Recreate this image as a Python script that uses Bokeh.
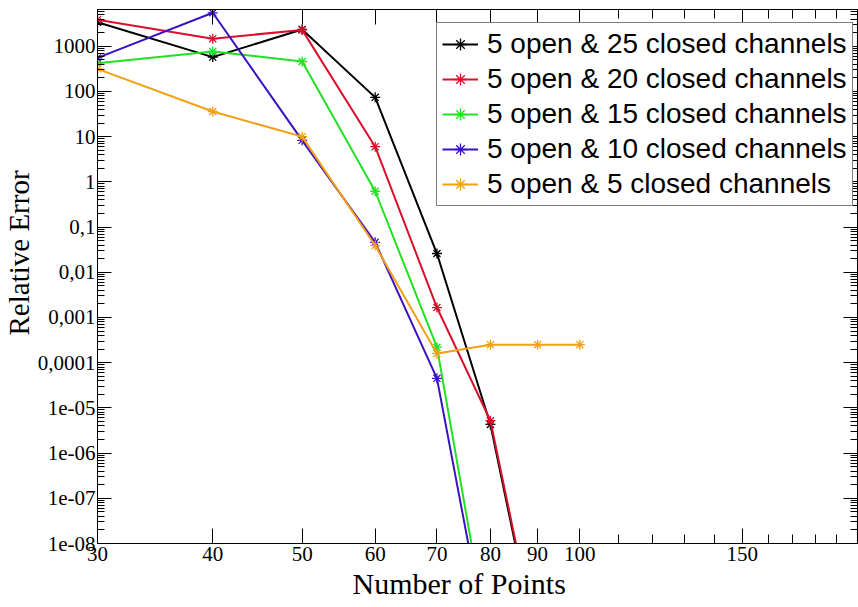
from bokeh.plotting import figure
from bokeh.models import (Range1d, FixedTicker, LogAxis, CustomJSTickFormatter,
                          Legend, LegendItem, Title)
from bokeh.embed import file_html
from bokeh.resources import INLINE

# ---- data ----
labels = ["5 open & 25 closed channels", "5 open & 20 closed channels",
          "5 open & 15 closed channels", "5 open & 10 closed channels",
          "5 open & 5 closed channels"]
colors = ["#000000", "#d8102c", "#22e022", "#3a12c0", "#f2a014"]

n_points_25 = [30, 40, 50, 60, 70, 80, 90]
err_25 = [3400, 575, 2350, 74, 0.026, 4.3e-6, 4e-11]
n_points_20 = [30, 40, 50, 60, 70, 80, 90]
err_20 = [3870, 1470, 2300, 6.0, 0.00166, 5.2e-6, 5e-11]
n_points_15 = [30, 40, 50, 60, 70, 80]
err_15 = [420, 765, 460, 0.62, 2.2e-4, 4e-11]
n_points_10 = [30, 40, 50, 60, 70, 80]
err_10 = [555, 5500, 8.3, 0.046, 4.5e-5, 2.6e-11]
n_points_5 = [30, 40, 50, 60, 70, 80, 90, 100]
err_5 = [316, 36, 10, 0.039, 1.6e-4, 2.5e-4, 2.5e-4, 2.5e-4]

x_major_ticks = [30, 40, 50, 60, 70, 80, 90, 100, 150]
x_minor_ticks = [110, 120, 130, 140, 160, 170, 180, 190]
y_tick_values = [1e-8, 1e-7, 1e-6, 1e-5, 1e-4, 1e-3, 1e-2, 1e-1, 1, 10, 100, 1000]
y_tick_labels = ["1e-08", "1e-07", "1e-06", "1e-05", "0,0001", "0,001", "0,01",
                 "0,1", "1", "10", "100", "1000"]
y_minor_ticks = [m * 10.0 ** e for e in range(-8, 4) for m in range(2, 10)]

x_title = "Number of Points"
y_title = "Relative Error"

series = [(n_points_25, err_25), (n_points_20, err_20), (n_points_15, err_15),
          (n_points_10, err_10), (n_points_5, err_5)]

p = figure(width=858, height=607, x_axis_type="log", y_axis_type="log",
           x_range=Range1d(30, 200), y_range=Range1d(1e-8, 6500),
           output_backend="svg", toolbar_location=None,
           min_border_left=97, min_border_right=1, min_border_top=9,
           min_border_bottom=64)
p.grid.visible = False
p.outline_line_color = "black"
p.outline_line_width = 1
p.background_fill_color = "white"
p.border_fill_color = "white"

x_fmt = CustomJSTickFormatter(code="return String(Math.round(tick));")
y_fmt = CustomJSTickFormatter(args=dict(vals=y_tick_values, labs=y_tick_labels), code="""
let best = 0, bd = Infinity;
for (let i = 0; i < vals.length; i++) {
  const d = Math.abs(Math.log10(vals[i]) - Math.log10(tick));
  if (d < bd) { bd = d; best = i; }
}
return bd < 0.01 ? labs[best] : "";
""")
blank = CustomJSTickFormatter(code="return '';")

def style(ax, major_in, minor_in):
    ax.major_tick_in = major_in
    ax.major_tick_out = 0
    ax.minor_tick_in = minor_in
    ax.minor_tick_out = 0
    ax.axis_line_color = "black"
    ax.major_tick_line_color = "black"
    ax.minor_tick_line_color = "black"

xb = p.xaxis[0]
xb.ticker = FixedTicker(ticks=x_major_ticks, minor_ticks=x_minor_ticks)
xb.formatter = x_fmt
style(xb, 15, 9)
xb.major_label_text_font = "Liberation Serif"
xb.major_label_text_font_size = "21px"
xb.major_label_text_color = "black"
xb.major_label_standoff = 3

yl = p.yaxis[0]
yl.ticker = FixedTicker(ticks=y_tick_values, minor_ticks=y_minor_ticks)
yl.formatter = y_fmt
style(yl, 14, 7)
yl.major_label_text_font = "Liberation Serif"
yl.major_label_text_font_size = "21px"
yl.major_label_text_color = "black"
yl.major_label_standoff = 2

top = LogAxis(ticker=FixedTicker(ticks=x_major_ticks, minor_ticks=x_minor_ticks),
              formatter=blank, major_label_text_font_size="0px", major_label_standoff=0)
style(top, 15, 9)
p.add_layout(top, "above")
right = LogAxis(ticker=FixedTicker(ticks=y_tick_values, minor_ticks=y_minor_ticks),
                formatter=blank, major_label_text_font_size="0px", major_label_standoff=0)
style(right, 14, 7)
p.add_layout(right, "right")

# axis titles, placed off-centre as in the reference
p.add_layout(Title(text=x_title, align="left", offset=255, standoff=2,
                   text_font="Liberation Serif", text_font_size="30px",
                   text_font_style="normal", text_color="black"), "below")
p.add_layout(Title(text=y_title, align="left", offset=208, standoff=0,
                   text_font="Liberation Serif", text_font_size="29px",
                   text_font_style="normal", text_color="black"), "left")

items = []
for (xs, ys), c, lab in zip(series, colors, labels):
    ln = p.line(xs, ys, line_color=c, line_width=2)
    sc = p.scatter(xs, ys, marker="asterisk", size=10, line_color=c, line_width=1.3)
    items.append(LegendItem(label=lab, renderers=[ln, sc]))

legend = Legend(items=items, location=(339, 337))
legend.label_text_font = "Liberation Sans"
legend.label_text_font_size = "28px"
legend.label_text_color = "black"
legend.border_line_color = "black"
legend.border_line_width = 1
legend.background_fill_alpha = 1
legend.padding = 5
legend.spacing = 3
legend.margin = 0
legend.glyph_width = 36
legend.glyph_height = 30
legend.label_height = 30
legend.label_standoff = 9
p.add_layout(legend)

open("out.html", "w").write(file_html(p, INLINE))
